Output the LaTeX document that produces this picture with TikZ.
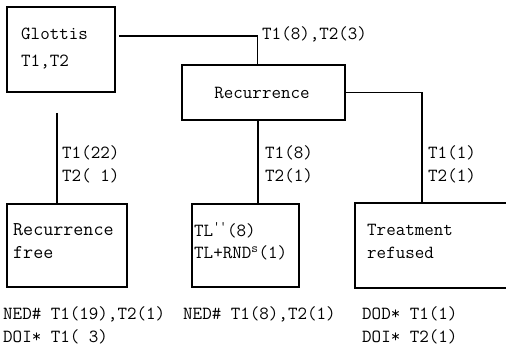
\documentclass[tikz,border=0pt]{standalone}
\usepackage{fontspec}
\begin{document}
\begin{tikzpicture}[x=1pt,y=-1pt,
  box/.style={draw,line width=1.4pt,rectangle,inner sep=0pt},
  txt/.style={anchor=west,inner sep=0pt,font=\ttfamily\fontsize{18.5}{21}\selectfont},
  bigtxt/.style={txt,font=\ttfamily\fontsize{19.5}{22}\selectfont},
  link/.style={line width=1.4pt}]
\useasboundingbox (0,0) rectangle (506,355);

% boxes
\node[box,minimum width=108pt,minimum height=85pt] (glottis) at (61,49.5) {};
\node[box,minimum width=163pt,minimum height=55pt] (recur) at (263.5,92.5) {};
\node[box,minimum width=120pt,minimum height=83pt] (free) at (67,245.5) {};
\node[box,minimum width=107pt,minimum height=83pt] (tl) at (245.5,245.5) {};
\node[box,minimum width=170pt,minimum height=85pt] (treat) at (440,245.5) {};

% box texts
\node[txt] (g1) at (21,34) {Glottis};
\node[txt] (g2) at (21,62) {T1,T2};
\node[txt,anchor=center] (r1) at (262,93) {Recurrence};
\node[bigtxt] (f1) at (13,230) {Recurrence};
\node[bigtxt] (f2) at (13,253) {free};
\node[txt] (t1) at (194,230) {TL\textsuperscript{''}(8)};
\node[txt] (t2) at (194,253) {TL+RND\textsuperscript{s}(1)};
\node[txt] (q1) at (367,230) {Treatment};
\node[txt] (q2) at (367,253) {refused};

% connector end points
\coordinate (gs) at (57,113);
\coordinate (ge) at (119,36);

% connectors
\draw[link] (ge) -| ([xshift=-6pt]recur.north);
\draw[link] (gs) -- (gs |- free.north);
\draw[link] ([xshift=-5.5pt]recur.south) -- ([xshift=-5.5pt]recur.south |- tl.north);
\draw[link] (recur.east) -| ([xshift=-18pt]treat.north);

% connector labels
\node[txt] (l0) at (262,34) {T1(8),T2(3)};
\node[txt] (l1) at (62,153) {T1(22)};
\node[txt] (l2) at (62,176) {T2( 1)};
\node[txt] (l3) at (265,153) {T1(8)};
\node[txt] (l4) at (265,176) {T2(1)};
\node[txt] (l5) at (428,153) {T1(1)};
\node[txt] (l6) at (428,176) {T2(1)};

% outcome notes
\node[txt] (n1) at (3,314) {NED\# T1(19),T2(1)};
\node[txt] (n2) at (3,337) {DOI* T1( 3)};
\node[txt] (n3) at (183,314) {NED\# T1(8),T2(1)};
\node[txt] (n4) at (362,314) {DOD* T1(1)};
\node[txt] (n5) at (362,337) {DOI* T2(1)};
\end{tikzpicture}
\end{document}
